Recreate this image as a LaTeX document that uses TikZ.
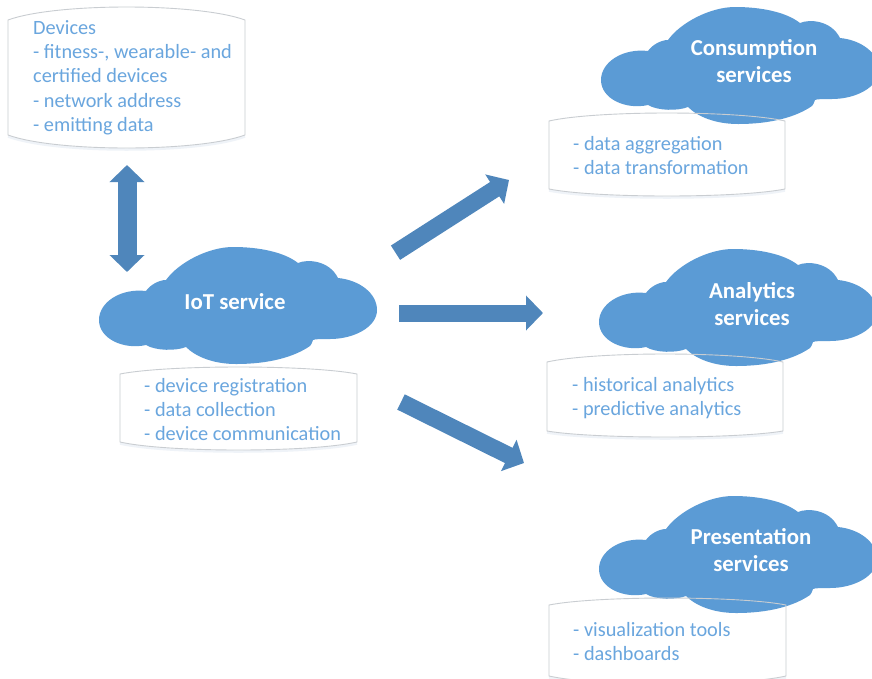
\documentclass[tikz,border=0pt]{standalone}
\usepackage{fontspec}
\setmainfont{Carlito}
\usetikzlibrary{arrows.meta}
\definecolor{cloudblue}{HTML}{5B9BD5}
\definecolor{textblue}{HTML}{6AA6DE}
\definecolor{arrowblue}{HTML}{4F86BB}
\definecolor{cylline}{HTML}{C9CDD1}
\definecolor{cylglow}{HTML}{DCE6F0}
\newcommand{\cylshape}[6]{%
  \pgfmathsetmacro{\xa}{#1+0.2*(#2-#1)}%
  \pgfmathsetmacro{\xb}{#2-0.2*(#2-#1)}%
  \pgfmathsetmacro{\ct}{#4+(#3-#4)*4/3}%
  \pgfmathsetmacro{\cb}{#5+(#6-#5)*4/3}%
  \path[draw=cylglow,draw opacity=0.45,line width=2.5pt,yshift=-1.5pt] (#1,#5) .. controls (\xa,\cb) and (\xb,\cb) .. (#2,#5);
  \path[draw=cylline,line width=0.9pt] (#1,#4) .. controls (\xa,\ct) and (\xb,\ct) .. (#2,#4) -- (#2,#5) .. controls (\xb,\cb) and (\xa,\cb) .. (#1,#5) -- cycle;
}
\tikzset{
  x=1pt,y=-1pt,
  cloudpic/.pic={
    \fill[cloudblue] (0,73)
      .. controls (0,55) and (22,41) .. (47,44)
      .. controls (51,38) and (60,33) .. (67,33)
      .. controls (80,15) and (110,0) .. (134,0)
      .. controls (160,0) and (185,5) .. (199,16)
      .. controls (208,12) and (230,13) .. (239,31)
      .. controls (260,33) and (278,46) .. (278,63)
      .. controls (278,80) and (255,92) .. (231,92)
      .. controls (222,92) and (216,92) .. (214,93)
      .. controls (213,96) and (212,98) .. (211,99)
      .. controls (195,110) and (170,117) .. (137,117)
      .. controls (115,117) and (97,110) .. (87,100)
      .. controls (77,104) and (57,104) .. (47,98)
      .. controls (25,103) and (0,92) .. (0,73) -- cycle;
  },
  cloudlabel/.style={font=\fontsize{22.8}{27}\selectfont\bfseries,text=white,align=center,inner sep=0pt,anchor=center},
  cyltext/.style={font=\fontsize{20.3}{24.3}\selectfont,text=textblue,align=left,inner sep=0pt,anchor=north west},
  blockarrow/.style={draw=arrowblue,line width=17pt,-{Triangle[length=17pt,width=34pt]}},
  blockboth/.style={draw=arrowblue,line width=19pt,{Triangle[length=17pt,width=34pt]}-{Triangle[length=17pt,width=34pt]}},
}
\begin{document}
\begin{tikzpicture}
\useasboundingbox (0,0) rectangle (872,678);
\clip (0,0) rectangle (872,678);
\fill[white] (0,0) rectangle (872,678);
% clouds
\pic at (99,247) {cloudpic};
\pic at (601,7) {cloudpic};
\pic at (599,249) {cloudpic};
\pic at (599,496) {cloudpic};
% cylinders
\cylshape{8}{245}{7}{20}{135}{148}
\cylshape{120}{357}{367}{374}{442}{450}
\cylshape{549}{785}{113}{121}{189}{196}
\cylshape{547}{783}{354}{362}{431}{437}
\cylshape{549}{786}{598}{605}{676}{684}
% cloud labels
\node[cloudlabel] (iot) at (235,302) {IoT service};
\node[cloudlabel] (cons) at (754,61) {Consumption\\services};
\node[cloudlabel] (anal) at (752,304) {Analytics\\services};
\node[cloudlabel] (pres) at (751,550) {Presentation\\services};
% cylinder texts
\node[cyltext] (devtext) at (33,20) {Devices\\- fitness-, wearable- and\\certified devices\\- network address\\- emitting data};
\node[cyltext] (iottext) at (144,378) {- device registration\\- data collection\\- device communication};
\node[cyltext] (constext) at (573,136) {- data aggregation\\- data transformation};
\node[cyltext] (analtext) at (572,377) {- historical analytics\\- predictive analytics};
\node[cyltext] (prestext) at (573,622) {- visualization tools\\- dashboards};
% arrows
\coordinate (a1s) at (127,165);
\coordinate (a1e) at (127,272);
\coordinate (a2s) at (395.5,252.7);
\coordinate (a2e) at (509,180);
\coordinate (a3s) at (399,313);
\coordinate (a3e) at (543,313);
\coordinate (a4s) at (401,402);
\coordinate (a4e) at (524,463);
\draw[blockboth] (a1s) -- (a1e);
\draw[blockarrow] (a2s) -- (a2e);
\draw[blockarrow] (a3s) -- (a3e);
\draw[blockarrow] (a4s) -- (a4e);
\end{tikzpicture}
\end{document}
